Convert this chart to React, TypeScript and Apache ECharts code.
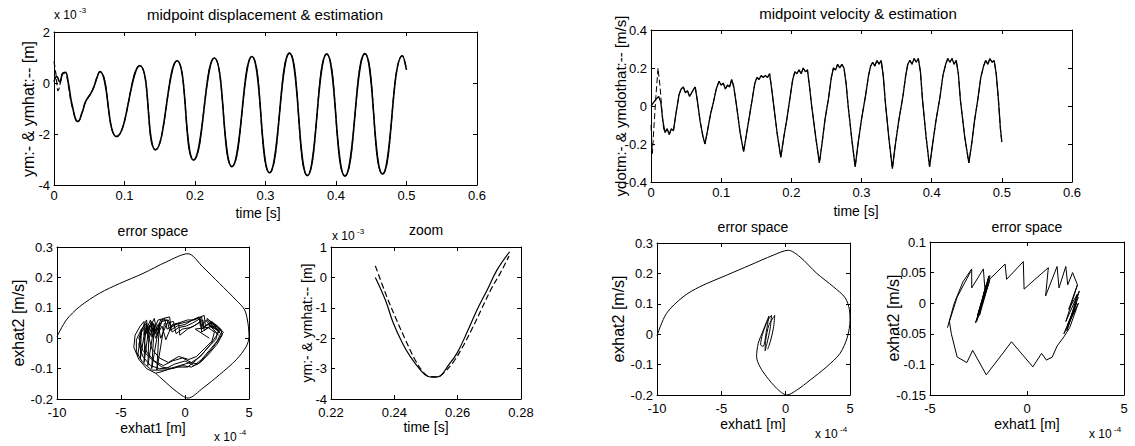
import React, { useEffect, useRef } from "react";
import * as echarts from "echarts";

const FONT = "'Liberation Sans', Arial, Helvetica, sans-serif";

// ---------- top-left: midpoint displacement (values in 1e-3 m) ----------
const ymHead: [number, number][] = [
  [0.0, 0.05], [0.004, 0.25], [0.008, 0.05], [0.012, 0.35], [0.016, 0.42],
  [0.02, 0.05], [0.026, -0.9],
];
const ymhatHead: [number, number][] = [
  [0.0, 0.85], [0.003, 0.3], [0.006, -0.3], [0.009, 0.0], [0.013, 0.4],
  [0.017, 0.35], [0.021, -0.2], [0.026, -0.95],
];
const ymTail: [number, number][] = [
  [0.034, -1.51], [0.04, -1.15], [0.045, -0.72], [0.052, -0.42], [0.057, -0.12],
  [0.061, 0.22], [0.065, 0.45], [0.0887, -2.1], [0.1217, 0.68], [0.1439, -2.62],
  [0.1745, 0.87], [0.198, -3.02], [0.2274, 0.98], [0.2524, -3.28], [0.2807, 1.04],
  [0.3057, -3.52], [0.334, 1.17], [0.3594, -3.63], [0.3868, 1.14], [0.4127, -3.65],
  [0.441, 1.15], [0.466, -3.57], [0.4943, 1.07], [0.5, 0.52],
];

// ---------- top-right: midpoint velocity (m/s) ----------
const vHead: [number, number][] = [
  [0.0, 0.0], [0.004, 0.02], [0.008, 0.04], [0.011, 0.05], [0.014, 0.02], [0.017, -0.08],
];
const vhatHead: [number, number][] = [
  [0.0, -0.1], [0.002, -0.25], [0.004, -0.12], [0.007, 0.05], [0.01, 0.2],
  [0.013, 0.1], [0.016, -0.05], [0.018, -0.12],
];
const vTail: [number, number][] = [
  [0.02, -0.14], [0.023, -0.12], [0.026, -0.15], [0.029, -0.12], [0.032, -0.13],
  [0.036, -0.03], [0.04, 0.06], [0.043, 0.09], [0.046, 0.1], [0.049, 0.07],
  [0.052, 0.08], [0.055, 0.05], [0.058, 0.07], [0.061, 0.09], [0.063, 0.1],
  [0.066, 0.03], [0.07, -0.08], [0.074, -0.16], [0.077, -0.2], [0.081, -0.12],
  [0.085, -0.04], [0.089, 0.02], [0.093, 0.09], [0.097, 0.13], [0.1, 0.11],
  [0.103, 0.12], [0.106, 0.09], [0.109, 0.11], [0.112, 0.1], [0.115, 0.14],
  [0.118, 0.1], [0.122, 0.0], [0.127, -0.14], [0.132, -0.24], [0.136, -0.15],
  [0.14, -0.06], [0.144, 0.03], [0.148, 0.12], [0.151, 0.15], [0.154, 0.14],
  [0.157, 0.16], [0.16, 0.15], [0.163, 0.16], [0.166, 0.15], [0.169, 0.17],
  [0.172, 0.09], [0.175, 0.0], [0.18, -0.15], [0.185, -0.27], [0.189, -0.17],
  [0.194, -0.06], [0.198, 0.04], [0.202, 0.14], [0.205, 0.18], [0.208, 0.17],
  [0.211, 0.19], [0.214, 0.17], [0.217, 0.2], [0.22, 0.18], [0.223, 0.19],
  [0.226, 0.1], [0.229, 0.0], [0.235, -0.17], [0.24, -0.3], [0.244, -0.19],
  [0.248, -0.07], [0.253, 0.04], [0.257, 0.15], [0.26, 0.2], [0.263, 0.19],
  [0.266, 0.22], [0.269, 0.2], [0.272, 0.22], [0.275, 0.2], [0.278, 0.12],
  [0.281, 0.0], [0.286, -0.17], [0.291, -0.32], [0.295, -0.2], [0.3, -0.07],
  [0.306, 0.06], [0.31, 0.16], [0.313, 0.21], [0.316, 0.23], [0.319, 0.21],
  [0.322, 0.24], [0.325, 0.22], [0.328, 0.24], [0.331, 0.16], [0.334, 0.02],
  [0.339, -0.17], [0.344, -0.33], [0.348, -0.21], [0.353, -0.08], [0.359, 0.05],
  [0.363, 0.16], [0.366, 0.22], [0.369, 0.24], [0.372, 0.22], [0.375, 0.25],
  [0.378, 0.23], [0.381, 0.25], [0.384, 0.18], [0.387, 0.03], [0.392, -0.16],
  [0.397, -0.32], [0.401, -0.21], [0.406, -0.08], [0.412, 0.05], [0.416, 0.16],
  [0.42, 0.22], [0.423, 0.25], [0.426, 0.23], [0.429, 0.25], [0.432, 0.22],
  [0.435, 0.24], [0.438, 0.17], [0.441, 0.03], [0.447, -0.16], [0.453, -0.3],
  [0.457, -0.2], [0.461, -0.08], [0.466, 0.04], [0.47, 0.15], [0.474, 0.21],
  [0.477, 0.24], [0.48, 0.22], [0.483, 0.25], [0.486, 0.23], [0.489, 0.24],
  [0.492, 0.17], [0.495, 0.04], [0.498, -0.12], [0.5, -0.19],
];

// ---------- zoom (values in 1e-3 m) ----------
const zoomYm: [number, number][] = [
  [0.234, 0.0], [0.2372, -0.75], [0.2397, -1.51], [0.2425, -2.15], [0.245, -2.6],
  [0.2482, -3.04], [0.2505, -3.25], [0.2525, -3.28], [0.2545, -3.24], [0.257, -2.9],
  [0.2598, -2.49], [0.263, -1.8], [0.2661, -1.07], [0.2694, -0.4], [0.2724, 0.24],
  [0.2764, 0.84],
];
const zoomYmhat: [number, number][] = [
  [0.234, 0.38], [0.2375, -0.6], [0.2405, -1.35], [0.2435, -2.05], [0.2465, -2.7],
  [0.249, -3.1], [0.251, -3.26], [0.2535, -3.27], [0.2555, -3.15], [0.2585, -2.8],
  [0.2615, -2.3], [0.2645, -1.7], [0.2675, -1.05], [0.2705, -0.4], [0.2735, 0.15],
  [0.2762, 0.7],
];

// ---------- error space 1 (exhat1 in 1e-4 m, exhat2 m/s) ----------
const err1Outer: [number, number][] = [
  [-10, 0.005], [-9.27, 0.06], [-8.23, 0.104], [-6.67, 0.148], [-5.1, 0.18],
  [-3.28, 0.213], [-1.46, 0.251], [0.23, 0.278], [1.4, 0.234], [2.7, 0.18],
  [4.0, 0.125], [4.66, 0.093], [4.92, 0.049], [5.0, 0.005], [4.79, -0.027],
  [4.0, -0.071], [2.7, -0.12], [1.4, -0.164], [0.23, -0.197], [-0.68, -0.175],
  [-1.72, -0.137], [-2.3, -0.115],
];
const err1LoopA: [number, number][] = [
  [-2.3, -0.115], [-3.0, -0.1], [-3.6, -0.07], [-4.0, -0.03], [-3.9, 0.01], [-3.5, 0.04],
  [-3.2, 0.055], [-3.2, 0.01], [-2.7, 0.06], [-2.5, 0.02], [-2.1, 0.06], [-1.6, 0.065],
  [-1.4, 0.03], [-0.8, 0.045], [-0.2, 0.05], [0.3, 0.055], [0.9, 0.065], [1.5, 0.075],
  [1.6, 0.04], [2.1, 0.055], [2.6, 0.035], [3.0, 0.02], [2.7, 0.0], [2.2, -0.03],
  [1.6, -0.06], [1.0, -0.085], [0.4, -0.08], [-0.4, -0.09], [-1.2, -0.1], [-1.8, -0.11],
  [-2.3, -0.115],
];
const err1LoopB: [number, number][] = [
  [-2.0, -0.1], [-2.7, -0.09], [-3.3, -0.06], [-3.6, -0.02], [-3.4, 0.02], [-3.0, 0.045],
  [-2.9, 0.0], [-2.5, 0.05], [-2.2, 0.01], [-1.8, 0.055], [-1.3, 0.06], [-1.0, 0.02],
  [-0.5, 0.035], [0.1, 0.04], [0.6, 0.05], [1.2, 0.065], [1.3, 0.03], [1.8, 0.045],
  [2.4, 0.03], [2.8, 0.015], [2.5, -0.01], [1.9, -0.04], [1.3, -0.07], [0.7, -0.09],
  [0.0, -0.075], [-0.8, -0.085], [-1.5, -0.1], [-2.0, -0.1],
];
const err1LoopC: [number, number][] = [
  [-1.7, -0.09], [-2.4, -0.075], [-3.0, -0.045], [-3.2, -0.01], [-3.0, 0.03], [-2.6, 0.05],
  [-2.6, 0.005], [-2.1, 0.045], [-1.9, 0.0], [-1.4, 0.05], [-0.9, 0.055], [-0.7, 0.015],
  [-0.2, 0.03], [0.4, 0.035], [0.9, 0.045], [1.4, 0.06], [1.5, 0.025], [2.0, 0.04],
  [2.6, 0.025], [2.4, -0.005], [1.8, -0.03], [1.2, -0.06], [0.5, -0.08], [-0.2, -0.065],
  [-1.0, -0.075], [-1.7, -0.09],
];
const err1LoopD: [number, number][] = [
  [-1.3, -0.08], [-2.0, -0.065], [-2.6, -0.035], [-2.8, 0.0], [-2.5, 0.035], [-2.3, 0.0],
  [-1.8, 0.04], [-1.5, -0.005], [-1.0, 0.045], [-0.5, 0.05], [-0.4, 0.01], [0.2, 0.03],
  [0.7, 0.04], [1.2, 0.055], [1.3, 0.02], [1.8, 0.035], [2.3, 0.02], [2.1, -0.01],
  [1.5, -0.035], [0.9, -0.06], [0.3, -0.07], [-0.5, -0.06], [-1.3, -0.08],
];
const err1LoopE: [number, number][] = [
  [-1.0, -0.1], [-1.8, -0.095], [-2.6, -0.07], [-3.3, -0.04], [-3.6, 0.0], [-3.3, 0.035],
  [-3.0, 0.06], [-2.9, 0.02], [-2.4, 0.065], [-2.2, 0.025], [-1.7, 0.065], [-1.2, 0.07],
  [-1.1, 0.035], [-0.5, 0.05], [0.2, 0.06], [0.7, 0.06], [1.3, 0.07], [1.4, 0.035],
  [1.9, 0.05], [2.4, 0.045], [2.8, 0.03], [2.9, 0.01], [2.5, -0.02], [1.9, -0.05],
  [1.2, -0.08], [0.5, -0.095], [-0.2, -0.09], [-1.0, -0.1],
];
const err1LoopF: [number, number][] = [
  [-2.6, -0.105], [-3.3, -0.08], [-3.8, -0.045], [-3.8, -0.005], [-3.4, 0.03], [-3.0, 0.05],
  [-3.0, 0.015], [-2.6, 0.055], [-2.3, 0.015], [-1.9, 0.06], [-1.4, 0.06], [-1.2, 0.025],
  [-0.6, 0.04], [0.0, 0.045], [0.6, 0.06], [1.1, 0.07], [1.2, 0.04], [1.7, 0.06],
  [2.2, 0.04], [2.7, 0.025], [2.4, 0.005], [2.0, -0.02], [1.4, -0.05], [0.8, -0.075],
  [0.2, -0.095], [-0.6, -0.095], [-1.5, -0.105], [-2.6, -0.105],
];
const err1Hatch: [number, number][] = [
  [-3.7, -0.06], [-3.4, 0.03], [-3.5, -0.07], [-3.1, 0.035], [-3.2, -0.08], [-2.8, 0.04],
  [-2.9, -0.09], [-2.4, 0.045], [-2.6, -0.1], [-2.0, 0.05], [-2.2, -0.105], [-1.6, 0.05],
];
const err1Right: [number, number][] = [
  [1.6, 0.06], [2.6, 0.01], [1.8, 0.05], [2.7, 0.02], [2.0, 0.055], [2.8, 0.025],
  [1.7, 0.065], [2.5, 0.04], [0.8, 0.03], [1.9, 0.0],
];

// ---------- error space 2 ----------
const err2Outer: [number, number][] = [
  [-10, -0.005], [-9.27, 0.068], [-7.97, 0.123], [-6.68, 0.156], [-4.6, 0.194],
  [-2.78, 0.227], [-0.96, 0.26], [0.2, 0.276], [1.12, 0.254], [2.42, 0.2],
  [3.71, 0.156], [4.62, 0.12], [4.96, 0.08], [5.0, 0.046], [4.8, -0.009],
  [4.23, -0.063], [3.19, -0.107], [1.9, -0.151], [0.86, -0.184], [0.08, -0.2],
  [-0.7, -0.178], [-1.48, -0.14], [-2.0, -0.107], [-2.26, -0.074], [-2.13, -0.03],
  [-1.74, 0.013], [-1.3, 0.06],
];
const err2Inner: [number, number][] = [
  [-1.3, 0.06], [-1.5, 0.01], [-1.75, -0.04], [-1.95, -0.035], [-1.8, 0.0], [-1.4, 0.045],
  [-1.1, 0.062], [-1.2, 0.02], [-1.45, -0.03], [-1.6, -0.055], [-1.55, -0.02], [-1.3, 0.03],
  [-0.85, 0.062], [-0.95, 0.02], [-1.2, -0.025], [-1.4, -0.05],
];

// ---------- error space 3 ----------
const err3Path: [number, number][] = [
  [-4.1, -0.04], [-3.75, 0.0], [-3.3, 0.035], [-2.85, 0.056], [-2.85, 0.025], [-2.25, 0.056],
  [-2.15, 0.015], [-2.65, -0.032], [-2.05, 0.03], [-2.55, -0.02], [-1.95, 0.045], [-2.4, -0.01],
  [-1.9, 0.04], [-1.13, 0.064], [-1.05, 0.039], [-0.19, 0.068], [-0.15, 0.023], [0.41, 0.039],
  [1.1, 0.058], [0.96, 0.012], [1.55, 0.06], [1.65, 0.025], [2.0, 0.06], [2.1, 0.03],
  [2.35, 0.05], [2.6, 0.03], [2.15, -0.01], [2.6, 0.015], [2.25, -0.025], [2.65, 0.0],
  [2.2, -0.04], [1.9, -0.055], [1.55, -0.07], [1.3, -0.088], [1.0, -0.093], [0.75, -0.082],
  [0.3, -0.104], [-0.8, -0.063], [-1.2, -0.08], [-2.1, -0.117], [-2.8, -0.077], [-3.1, -0.097],
  [-3.6, -0.088], [-3.9, -0.05], [-4.0, -0.03], [-3.6, 0.01], [-3.1, 0.04], [-2.9, 0.052],
];
const err3Sheaf: [number, number][] = [
  [-1.9, 0.045], [-2.6, -0.03], [-2.0, 0.04], [-2.55, -0.025], [-2.1, 0.03], [-2.5, -0.015],
  [-1.95, 0.035], [-2.45, -0.02], [-2.2, 0.02],
];
const err3Right: [number, number][] = [
  [2.6, 0.03], [2.0, -0.03], [2.7, 0.02], [2.05, -0.045], [2.55, 0.0], [1.9, -0.05],
  [2.5, -0.01], [2.1, -0.035], [2.65, 0.01],
];

// ---------- axes ----------
const grids = [
  { left: 54, top: 32, width: 423, height: 153, x: [0, 0.6, 0.1], y: [-4, 2, 2] },
  { left: 651, top: 30, width: 421, height: 152, x: [0, 0.6, 0.1], y: [-0.4, 0.4, 0.2] },
  { left: 57, top: 247, width: 192, height: 152, x: [-10, 5, 5], y: [-0.2, 0.3, 0.1] },
  { left: 331, top: 247, width: 190, height: 152, x: [0.22, 0.28, 0.02], y: [-4, 1, 1] },
  { left: 657, top: 243, width: 193, height: 152, x: [-10, 5, 5], y: [-0.2, 0.3, 0.1] },
  { left: 930, top: 242, width: 194, height: 153, x: [-5, 5, 5], y: [-0.15, 0.1, 0.05] },
];

function axis(g: number, pos: string, r: number[], labels: boolean) {
  const isX = pos === "bottom" || pos === "top";
  return {
    type: "value",
    gridIndex: g,
    position: pos,
    min: r[0],
    max: r[1],
    interval: r[2],
    axisLine: { show: true, onZero: false, lineStyle: { color: "#000", width: 1 } },
    axisTick: { show: true, inside: true, length: 4, lineStyle: { color: "#000" } },
    axisLabel: {
      show: labels,
      color: "#000",
      fontSize: 13,
      fontFamily: FONT,
      margin: isX ? (g >= 2 ? 7 : 4) : 4,
      showMinLabel: true,
      showMaxLabel: true,
    },
    splitLine: { show: false },
  };
}

function line(g: number, data: [number, number][], dashed: boolean, width: number, smooth: number | boolean) {
  return {
    type: "line",
    xAxisIndex: 2 * g,
    yAxisIndex: 2 * g,
    data,
    showSymbol: false,
    smooth,
    lineStyle: { color: "#000", width, type: dashed ? [6, 3] : "solid" },
    silent: true,
  };
}

function txt(x: number, y: number, text: string, size: number, rot = 0, align = "center") {
  return {
    type: "text",
    x,
    y,
    rotation: rot,
    silent: true,
    style: {
      text,
      fill: "#000",
      fontSize: size,
      fontFamily: FONT,
      align,
      verticalAlign: "middle",
    },
  };
}

export default function App() {
  const ref = useRef<HTMLDivElement>(null);
  useEffect(() => {
    if (!ref.current) return;
    const chart = echarts.init(ref.current, undefined, { renderer: "svg" });
    const xAxes: any[] = [];
    const yAxes: any[] = [];
    grids.forEach((gr, g) => {
      xAxes.push(axis(g, "bottom", gr.x, true), axis(g, "top", gr.x, false));
      yAxes.push(axis(g, "left", gr.y, true), axis(g, "right", gr.y, false));
    });
    const R = Math.PI / 2;
    chart.setOption({
      animation: false,
      backgroundColor: "#fff",
      grid: grids.map((g) => ({ left: g.left, top: g.top, width: g.width, height: g.height, show: false })),
      xAxis: xAxes,
      yAxis: yAxes,
      series: [
        line(0, [...ymHead, ...ymTail], false, 1.6, 0.5),
        line(0, [...ymhatHead, ...ymTail], true, 1.2, 0.5),
        line(1, [...vHead, ...vTail], false, 1.3, false),
        line(1, [...vhatHead, ...vTail], true, 1.0, false),
        line(2, err1Outer, false, 1, 0.3),
        line(2, err1LoopA, false, 1, false),
        line(2, err1LoopB, false, 1, false),
        line(2, err1LoopC, false, 1, false),
        line(2, err1LoopD, false, 1, false),
        line(2, err1LoopE, false, 1, false),
        line(2, err1LoopF, false, 1, false),
        line(2, err1Hatch, false, 1, false),
        line(2, err1Right, false, 1, false),
        line(3, zoomYm, false, 1.2, 0.4),
        line(3, zoomYmhat, true, 1.2, 0.4),
        line(4, [...err2Outer, ...err2Inner], false, 1, 0.3),
        line(5, err3Path, false, 1, false),
        line(5, err3Sheaf, false, 1, false),
        line(5, err3Right, false, 1, false),
      ],
      graphic: [
        // titles
        txt(265, 14, "midpoint displacement & estimation", 15),
        txt(858, 13, "midpoint velocity & estimation", 15),
        txt(153, 231, "error space", 14),
        txt(426, 230, "zoom", 14),
        txt(753, 227, "error space", 14),
        txt(1027, 227, "error space", 14),
        // x labels
        txt(258, 213, "time [s]", 14),
        txt(856, 211, "time [s]", 14),
        txt(153, 428, "exhat1 [m]", 14),
        txt(426, 427, "time [s]", 14),
        txt(753, 424, "exhat1 [m]", 14),
        txt(1027, 424, "exhat1 [m]", 14),
        // y labels
        txt(28, 109, "ym:- & ymhat:-- [m]", 16, R),
        txt(620, 106, "ydotm:- & ymdothat:-- [m/s]", 15, R),
        txt(18, 323, "exhat2 [m/s]", 16, R),
        txt(307, 323, "ym:- & ymhat:-- [m]", 14, R),
        txt(618, 319, "exhat2 [m/s]", 16, R),
        txt(893, 318, "exhat2 [m/s]", 16, R),
        // exponents
        txt(54, 15, "x 10", 12, 0, "left"),
        txt(79, 10, "-3", 8, 0, "left"),
        txt(332, 236, "x 10", 12, 0, "left"),
        txt(357, 231, "-3", 8, 0, "left"),
        txt(214, 437, "x 10", 12, 0, "left"),
        txt(239, 432, "-4", 8, 0, "left"),
        txt(815, 434, "x 10", 12, 0, "left"),
        txt(840, 429, "-4", 8, 0, "left"),
        txt(1089, 434, "x 10", 12, 0, "left"),
        txt(1114, 429, "-4", 8, 0, "left"),
      ],
    });
    return () => chart.dispose();
  }, []);
  return (
    <div
      ref={ref}
      style={{ position: "absolute", left: 0, top: 0, width: 1135, height: 446, background: "#fff" }}
    />
  );
}
